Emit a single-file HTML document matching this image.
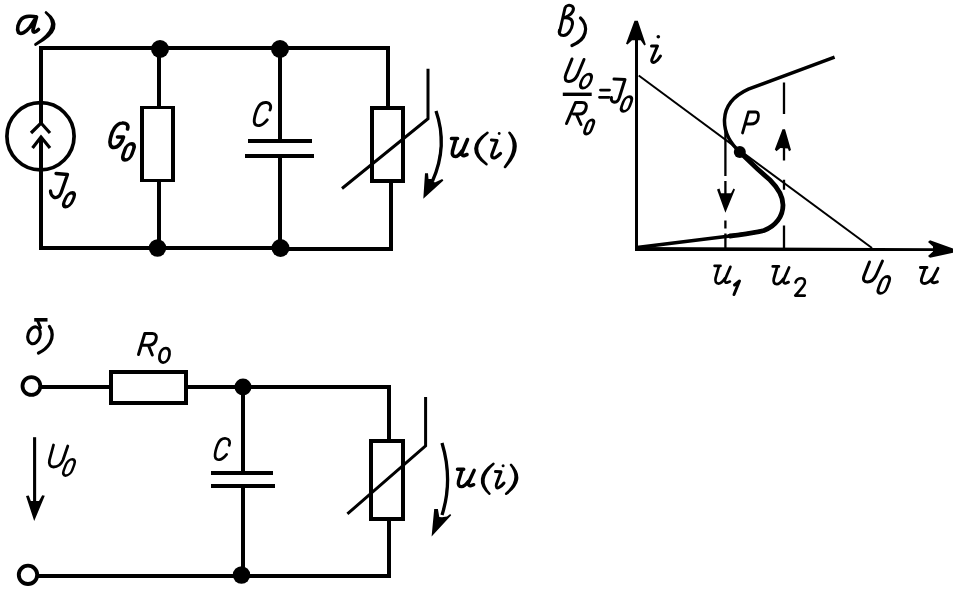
<!DOCTYPE html>
<html><head><meta charset="utf-8">
<style>
html,body{margin:0;padding:0;background:#fff;width:960px;height:603px;overflow:hidden;font-family:"Liberation Sans",sans-serif;}
svg{display:block;position:absolute;left:0;top:0;}
</style></head><body>
<svg width="960" height="603" viewBox="0 0 960 603">
<rect width="960" height="603" fill="#fff"/>
<g fill="none" stroke="#000" stroke-linecap="butt" stroke-linejoin="miter">
<!-- ===== circuit a ===== -->
<g stroke-width="4">
<path d="M41,123 V48 H388 V106"/>
<path d="M41,137 V248 H280"/>
<path d="M280,249 H391 V183"/>
<path d="M159,48 V106 M159,182 V248"/>
<path d="M280,48 V139 M280,158 V248"/>
<path d="M248,141 H312 M245,156 H314"/>
</g>
<path d="M140,106 H175 V182 H140 Z M144,109 V179 H171 V109 Z" fill="#000" stroke="none"/>
<path d="M370,106 H405 V183 H370 Z M374,110 V179 H401 V110 Z" fill="#000" stroke="none"/>
<circle cx="40.5" cy="136.2" r="33.6" stroke-width="3.7"/>
<path d="M31,133 L41,123 L50,133 M32.5,148 L41,137 L50,148" stroke-width="3.2"/>
<path d="M342,188.5 L428,118.7 V68.8" stroke-width="3"/>
<path d="M436,111 Q448.15,146.00 432.5,181" stroke-width="3.3" stroke-linecap="butt"/><path d="M436.00,111.00 Q446.95,145.94 432.50,181.00 Q449.35,146.06 436.00,111.00 Z" fill="#000" stroke-width="0.8"/>
<path d="M423.3,198.8 L425,173.3 L428,173.3 L428.5,179 L431.5,179 L434.8,182.6 L442.2,179 L443.4,180.4 Z" fill="#000" stroke="none"/>

<!-- ===== circuit b ===== -->
<g stroke-width="4">
<path d="M40,387 H109 M188,387 H389 V439 M389,521 V576 H38"/>
<path d="M243,387 V471 M243,488 V576"/>
<path d="M211,473 H273 M211,486 H275"/>
</g>
<path d="M109,370 H188 V405 H109 Z M113,374 V401 H184 V374 Z" fill="#000" stroke="none"/>
<path d="M369,439 H405 V521 H369 Z M373,443 V517 H401 V443 Z" fill="#000" stroke="none"/>
<circle cx="31.4" cy="386" r="8.9" stroke-width="3.8"/>
<circle cx="28" cy="574.8" r="9.2" stroke-width="3.9"/>
<path d="M347.4,513.9 L425.6,445.9 V397.1" stroke-width="3"/>
<path d="M442,443 Q453.20,480.00 442,515" stroke-width="3.3" stroke-linecap="butt"/><path d="M442.00,443.00 Q452.00,480.00 442.00,515.00 Q454.40,480.00 442.00,443.00 Z" fill="#000" stroke-width="0.8"/>
<path d="M431.6,536.6 L434.2,509 L437.9,509 L439.3,517 L442,517.3 L447,516.5 L450.2,514 L451.2,515.3 Z" fill="#000" stroke="none"/>
<path d="M34.6,437.2 V502" stroke-width="3.1"/>
<path d="M26,496 L28.8,495.6 L30.8,501 L39,501 L42.2,495.3 L44.8,495.8 L34.2,521 Z" fill="#000" stroke="none"/>

<!-- ===== graph v ===== -->
<path d="M636.5,251 V40" stroke-width="3"/>
<path d="M634.5,20.8 L637.8,20.8 L645.8,44.6 L644.3,45.5 L640.7,40.2 L632,40.2 L627.5,44.6 L626,43.8 Z" fill="#000" stroke="none"/>
<path d="M635,247 L935,248.2 V250.9 L635,251 Z" fill="#000" stroke="none"/>
<path d="M953,248.6 L953,252.8 L930,257.8 L928,256 L933,251.5 L933,246.5 L928,242 L930,240.2 Z" fill="#000" stroke="none"/>
<path d="M638.7,75.5 L872,248" stroke-width="2"/>
<path d="M637,247.5 L725.9,236.5 C745,234 755,233 764,230.5 C776,226 783,216 783,205 C783,195 777,187 770,180 L757,168.5 L739.8,152 C730,143 724,133 724.5,119.6 C725,108 731,97 748.4,89.1 L834.6,57.2" stroke-width="3.5"/>
<path d="M739.8,152 L757,168.5 L770,180 C777,187 783,195 783,205 C783,216 776,226 764,230.5 C755,233 745,234 730,236" stroke-width="4.8" stroke-linecap="round"/>
<circle cx="739.8" cy="152" r="6" fill="#000" stroke="none"/>
<path d="M725.4,131 V176 M725.4,181 V195 M725.4,220.6 V228.6 M725.4,233.5 V248.5" stroke-width="2.3"/>
<path d="M717,189.5 L719.5,188.6 L721,193.3 L731,193.3 L733.5,188.6 L735,189.6 L725.4,212.8 Z" fill="#000" stroke="none"/>
<path d="M784,82.5 V113.9 M784,147 V160.5 M784,179.8 V189.8 M784,225.6 V248.5" stroke-width="2.3"/>
<path d="M782.5,129.3 L785,129.3 L791,150 L789,151.2 L787.9,148.4 L780.4,148 L776.5,151.2 L774.8,149.6 Z" fill="#000" stroke="none"/>
</g>

<!-- dots -->
<g fill="#000">
<circle cx="160" cy="49" r="9"/>
<circle cx="157.5" cy="248" r="8.7"/>
<circle cx="280" cy="49" r="9"/>
<circle cx="280.5" cy="248" r="9"/>
<circle cx="243" cy="387" r="8.5"/>
<circle cx="241.5" cy="575" r="8.7"/>
</g>

<!-- ===== text ===== -->
<g id="txt" fill="none" stroke="#000" stroke-linecap="round" stroke-linejoin="round">

<!-- a) -->
<path d="M36.5,17 C33,16 25,15.5 21.5,19 C18,23 16.5,29 18.5,32.5 C21,35 26,32 30,27 L36.5,17 L33,29.5 C32.5,33 35,33 38.5,29.5" stroke-width="3.6"/>
<path d="M46.00,12.50 Q62.56,26.81 35.50,44.50 Q66.74,28.19 46.00,12.50 Z" fill="#000" stroke-width="2.7"/>
<!-- G -->
<path d="M127.5,129 C129,125 126,122.5 122,123 C116,123.5 112,131 110.5,138 C109,144 110.5,147.5 114,147.5 C118,147.5 122,143 123.5,137 L117.5,137" stroke-width="3.6"/>
<!-- C a -->
<path d="M270.00,110.00 C271.50,106.50 270.50,103.00 266.50,102.50 C262.00,102.00 259.00,104.50 257.00,109.50 C255.50,113.50 254.00,119.00 254.30,122.00 C254.60,125.00 257.00,126.00 259.50,125.50 C262.50,125.00 265.00,122.50 267.20,119.80" stroke-width="2.9"/>
<!-- J a -->
<path d="M56,173.5 L67.5,174.5 L61,193 C59.5,197 56,198.5 53.5,197 C51.5,195.5 50.5,193 50.5,191" stroke-width="3.3"/>
<!-- u(i) a -->
<path d="M451.50,138.49 L457.50,138.49 M456.00,138.49 L452.51,151.01 C451.81,154.49 453.00,156.51 455.49,156.51 C458.00,156.51 459.99,154.01 462.01,151.01 M467.50,139.50 L462.01,152.50 C461.50,155.00 463.00,156.00 464.50,155.50 L467.00,154.49" stroke-width="3.6"/>
<path d="M487.50,132.80 Q463.80,148.45 486.50,164.20 Q467.00,148.55 487.50,132.80 Z" fill="#000" stroke-width="2.5"/>
<path d="M491.5,140 L497,140.5 L492,154 C491,157.5 493,158.5 495.5,157.5 C497.5,156.5 499,155 500.5,153.5" stroke-width="3.2"/>
<circle cx="499.2" cy="133.5" r="1.4" fill="#000" stroke="none"/>
<path d="M509.50,132.80 Q520.16,146.89 505.00,167.00 Q523.34,147.31 509.50,132.80 Z" fill="#000" stroke-width="2.6"/>
<!-- б) -->
<path d="M34.2,319.8 H47.5" stroke-width="3.6" stroke-linecap="butt"/>
<path d="M37.5,320.5 L40.5,327.5" stroke-width="3"/>
<ellipse cx="34" cy="335.3" rx="6" ry="8.6" transform="rotate(18 34 335.3)" stroke-width="3.1"/>
<path d="M49.4,326.5 C53,331 53,338 50,343 C47,348 43,351 38.5,353" stroke-width="3.3"/>
<!-- R0 -->
<path d="M138.5,354.5 L144.8,333.5 L152.5,333.5 C156,333.5 157,336.5 156,339.5 C155,343 152.5,345 149,345.2 L142.5,345.2 M148.5,345.5 L152.3,355" stroke-width="3"/>
<!-- C б -->
<path d="M229.13,445.37 C230.47,442.15 229.58,438.94 225.99,438.48 C221.96,438.02 219.28,440.32 217.48,444.91 C216.14,448.58 214.80,453.63 215.06,456.39 C215.33,459.15 217.48,460.07 219.72,459.61 C222.41,459.15 224.65,456.85 226.62,454.37" stroke-width="2.7"/>
<!-- U б -->
<path d="M53.5,445 L49.5,460 C48.5,464.5 50.5,467 53.5,467 C57,467 61,464.5 63,460 L67.8,446" stroke-width="2.8"/>
<!-- u(i) б -->
<path d="M457.47,469.24 L463.76,469.24 M462.19,469.24 L458.53,481.34 C457.79,484.71 459.04,486.66 461.65,486.66 C464.28,486.66 466.37,484.24 468.48,481.34 M474.23,470.22 L468.48,482.78 C467.94,485.20 469.51,486.17 471.08,485.68 L473.71,484.71" stroke-width="3.4"/>
<path d="M493.50,463.80 Q472.61,479.00 489.50,493.80 Q475.59,479.40 493.50,463.80 Z" fill="#000" stroke-width="2.4"/>
<path d="M495.5,471.5 L501,471.8 L496.5,484 C495.5,487.5 497,488.5 499,487.5 C501,486.5 502.5,485 504,483" stroke-width="3"/>
<circle cx="503.1" cy="465.8" r="1.5" fill="#000" stroke="none"/>
<path d="M511.00,464.80 Q522.32,479.46 506.20,493.80 Q525.28,479.94 511.00,464.80 Z" fill="#000" stroke-width="2.5"/>
<!-- в) -->
<path d="M559.5,32.5 L565,8 C566,5 570,4.5 572.5,6.5 C575,9 572,14 568,16 C566,17 564,18 563,18 C568,17.5 573,18 572.5,24 C572,29 568,35.5 563.5,35.5 C559.5,35.5 558.5,33 559.5,30" stroke-width="3"/>
<path d="M580.5,18 C585,22 586.5,28 585,33 C583.5,39 578,43 572,45.5" stroke-width="3.3"/>
<!-- i axis -->
<path d="M651.5,46 L657.5,46 L652,59 C651,62 653,63 655,62 C657,61 659,58.5 660.5,56" stroke-width="3"/>
<circle cx="658.3" cy="36.8" r="1.8" fill="#000" stroke="none"/>
<!-- fraction -->
<path d="M572,59 L566,74 C564,79 565.5,81.5 569,81.5 C572.5,81.5 575.5,79 577.5,75 L584,59.5" stroke-width="3"/>
<path d="M562.8,94.3 H591.7" stroke-width="3.4" stroke-linecap="butt"/>
<path d="M566.5,123.5 L575.5,102.5 L582,102.5 C586,102.5 587,105 586,108.5 C585,112 582.5,114 579.5,114 L573.5,114 M576.5,114.5 L581,124.5" stroke-width="3"/>
<path d="M600.5,90.1 H609.5 M599.5,97.3 H609" stroke-width="2.8"/>
<path d="M614,79 L625,79.5 L619.5,97 C618.5,101 616,102.5 613.5,102 C611.5,101.5 611,99.5 611.5,97.5" stroke-width="3"/>
<!-- P -->
<path d="M742.5,133 L748.5,112 L755.5,112 C758.5,112 759,115.5 758,119 C757,122.5 754,124 750.5,124 L746.5,124" stroke-width="2.8"/>
<!-- u1 -->
<path d="M714.59,265.86 L720.53,265.86 M719.04,265.86 L715.58,278.14 C714.89,281.56 716.07,283.54 718.53,283.54 C721.01,283.54 722.99,281.09 724.98,278.14 M730.41,266.85 L724.98,279.60 C724.47,282.05 725.96,283.04 727.44,282.55 L729.93,281.56" stroke-width="2.7"/>
<path d="M734.5,285 L739.5,281 L734,294.5" stroke-width="3"/>
<!-- u2 -->
<path d="M772.78,266.46 L778.89,266.46 M777.36,266.46 L773.80,278.74 C773.09,282.16 774.31,284.14 776.84,284.14 C779.40,284.14 781.43,281.69 783.48,278.74 M789.07,267.45 L783.48,280.20 C782.96,282.65 784.49,283.64 786.01,283.15 L788.57,282.16" stroke-width="2.8"/>
<path d="M795.5,282.5 C796.5,279.5 799,278.3 801.5,278.3 C804,278.3 805.3,280 804.8,283 C804.3,286 799,291 795.2,295.6 L804.8,295.6" stroke-width="2.6"/>
<!-- U0 axis -->
<path d="M869.5,262 L864,276 C862.5,280.5 864.5,282 867.5,282 C871,282 874,279.5 876,275.5 L882.5,261" stroke-width="3"/>
<!-- u axis -->
<path d="M920.40,267.43 L926.99,267.43 M925.34,267.43 L921.50,278.64 C920.73,281.76 922.04,283.57 924.78,283.57 C927.53,283.57 929.72,281.33 931.93,278.64 M937.95,268.34 L931.93,279.97 C931.36,282.21 933.01,283.11 934.66,282.66 L937.41,281.76" stroke-width="2.9"/>
<rect x="-4.26" y="-8.10" width="8.52" height="16.20" rx="4.26" ry="5.54" transform="translate(128.43 151.90) skewX(-19.8)" stroke-width="3.6"/>
<rect x="-4.03" y="-7.05" width="8.05" height="14.10" rx="4.03" ry="5.23" transform="translate(69.00 199.80) skewX(-22.8)" stroke-width="3.3"/>
<rect x="-4.82" y="-7.25" width="9.63" height="14.50" rx="4.82" ry="6.26" transform="translate(164.50 355.35) skewX(-9.6)" stroke-width="2.8"/>
<rect x="-4.19" y="-8.15" width="8.38" height="16.30" rx="4.19" ry="5.45" transform="translate(69.00 467.45) skewX(-20.8)" stroke-width="2.6"/>
<rect x="-4.58" y="-7.05" width="9.16" height="14.10" rx="4.58" ry="5.95" transform="translate(586.00 81.15) skewX(-21.8)" stroke-width="2.8"/>
<rect x="-3.21" y="-7.10" width="6.43" height="14.20" rx="3.21" ry="4.18" transform="translate(589.20 126.90) skewX(-19.8)" stroke-width="2.8"/>
<rect x="-4.00" y="-7.40" width="8.01" height="14.80" rx="4.00" ry="5.21" transform="translate(626.50 104.00) skewX(-20.8)" stroke-width="2.8"/>
<rect x="-4.17" y="-8.45" width="8.33" height="16.90" rx="4.17" ry="5.42" transform="translate(883.85 284.90) skewX(-20.8)" stroke-width="2.9"/>

</g>
</svg>
</body></html>
